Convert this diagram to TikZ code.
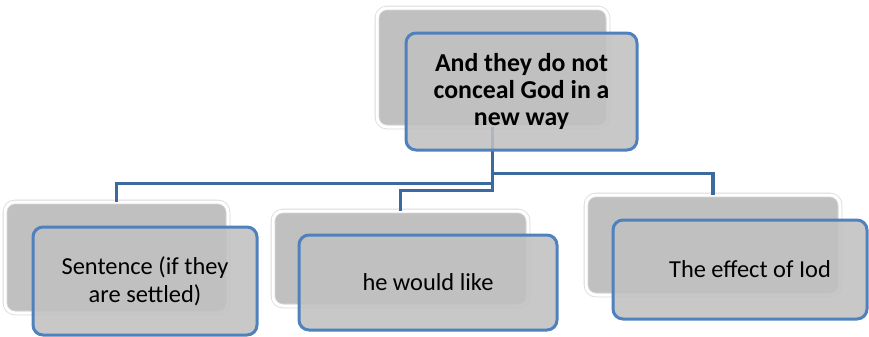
\documentclass[tikz,border=0pt]{standalone}
\usepackage{fontspec}
\setmainfont{Carlito}
\definecolor{boxgray}{HTML}{C0C0C0}
\definecolor{boxblue}{HTML}{4F81BD}
\definecolor{linkblue}{HTML}{3D6A9E}
\tikzset{
  backbox/.style={rectangle,rounded corners=5pt,fill=boxgray,draw=black!15,double=white,double distance=1.5pt,inner sep=0pt},
  frontbox/.style={rectangle,rounded corners=5pt,fill=boxgray,fill opacity=0.88,text opacity=1,draw=boxblue,line width=1.5pt,align=center,inner sep=0pt},
  link/.style={draw=linkblue,line width=1.7pt}
}
\begin{document}
\begin{tikzpicture}[x=0.5pt,y=-0.5pt]
    \useasboundingbox (0,0) rectangle (869,337);
    \node[backbox,minimum width=115.5pt,minimum height=59.5pt] (topback) at (492.5,67.5) {};
    \node[backbox,minimum width=111.5pt,minimum height=55.5pt] (leftback) at (116.5,257.5) {};
    \node[backbox,minimum width=127.5pt,minimum height=47.5pt] (midback) at (400.5,258.5) {};
    \node[backbox,minimum width=127pt,minimum height=50pt] (rightback) at (713,245) {};
    \draw[link] (topback.south) -- ++(0,46) -| (rightback.north);
    \draw[link] (topback.south) -- ++(0,56) -| (leftback.north);
    \draw[link] (topback.south) -- ++(0,63) -| (midback.north);
    \node[frontbox,minimum width=115.5pt,minimum height=58.5pt,font=\fontsize{12.9}{13.6}\selectfont\bfseries] (top) at (521.5,91.5) {And they do not\\conceal God in a\\new way};
    \node[frontbox,minimum width=112pt,minimum height=54pt,font=\fontsize{12.2}{14}\selectfont] (left) at (145,281) {Sentence (if they\\are settled)};
    \node[frontbox,minimum width=129pt,minimum height=47.5pt,font=\fontsize{12.2}{14}\selectfont] (mid) at (428,282.5) {he would like};
    \node[frontbox,minimum width=127pt,minimum height=49.5pt,font=\fontsize{12.2}{14}\selectfont] (right) at (740,269.5) {\hspace*{10pt}The effect of Iod};
\end{tikzpicture}
\end{document}
